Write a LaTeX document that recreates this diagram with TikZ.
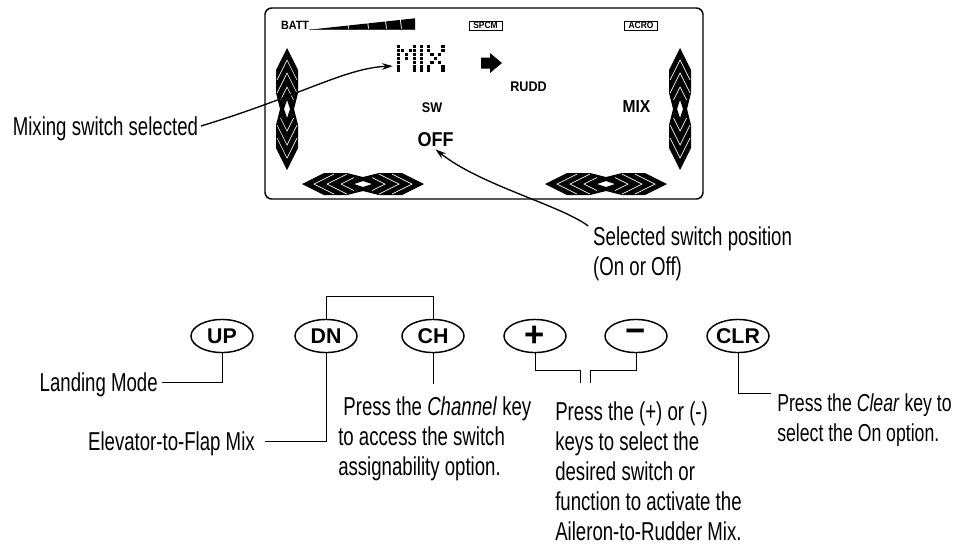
\documentclass[tikz,border=0pt]{standalone}
\usepackage{fontspec}
\setmainfont[FakeStretch=0.72]{Liberation Sans}
\newfontfamily\keyfont{Liberation Sans}
\newfontfamily\lcdfont[FakeStretch=0.9]{Liberation Sans}
\usetikzlibrary{arrows.meta, shapes.geometric}

%% Twin chevron bar of the LCD (up/down, rotate for left/right)
\tikzset{
  twinarrow/.pic={
    \foreach \s in {1,-1}{
      \begin{scope}[yscale=\s]
        \fill (0,-61) -- (11,-39) -- (11,-16) -- (7,0) -- (3,0) -- (0,-9)
          -- (-3,0) -- (-7,0) -- (-11,-16) -- (-11,-39) -- cycle;
        \draw[white, line width=0.5pt] (-10,-29) -- (0,-49) -- (10,-29);
        \draw[white, line width=0.5pt] (-10,-16) -- (0,-36) -- (10,-16);
        \draw[white, line width=0.5pt] (-6.5,-9) -- (0,-22) -- (6.5,-9);
      \end{scope}
    }
  }
}

\begin{document}
\begin{tikzpicture}[
  x=0.75pt, y=-0.75pt,
  %% LCD legend
  lcdtxt/.style={inner sep=0pt, font=\lcdfont\bfseries\fontsize{#1}{#1}\selectfont},
  %% boxed LCD flag
  lcdtag/.style={draw, line width=0.5pt, inner sep=0pt,
    minimum width=24.75pt, minimum height=6.75pt,
    font=\lcdfont\bfseries\fontsize{7}{7}\selectfont},
  %% transmitter key
  key/.style={ellipse, draw, line width=1.1pt, inner sep=0pt,
    minimum width=46.5pt, minimum height=24.8pt,
    font=\keyfont\bfseries\fontsize{16}{16}\selectfont},
  %% explanatory text
  note/.style={inner sep=0pt, align=left, font=\fontsize{19.4}{22.5}\selectfont},
  oneline/.style={text height=14pt, text depth=0pt},
  %% leader line
  lead/.style={line width=0.75pt},
  %% pointer arrow
  parr/.style={-{Stealth[length=8pt,width=5pt]}, line width=1pt},
]
\useasboundingbox (0,0) rectangle (960,544);

%% ── LCD SCREEN ─────────────────────────────────────────────────────────────
\node[draw, line width=1.1pt, rounded corners=5pt,
      minimum width=328.5pt, minimum height=143.25pt]
  (screen) at (484,103.5) {};

%% battery gauge
\node[lcdtxt=9] (batt) at (295,25) {BATT};
\fill (313,29.3) -- (415,18.3) -- (415,29.3) -- cycle;
\draw[line width=0.5pt] (batt.south east) -- (415,29.3);
\foreach \tx in {347,367,385,400}
  \draw[white, line width=0.6pt] (\tx,17) -- (\tx+1.5,28.5);

\node[lcdtag] (spcm) at (485.5,25.5) {SPCM};
\node[lcdtag] (acro) at (641,25.5) {ACRO};

%% dot-matrix MIX
\foreach \c/\r in {0/0,0/1,0/2,0/3,0/4,0/5,0/6,4/0,4/1,4/2,4/3,4/4,4/5,4/6,
                   1/1,3/1,2/2,2/3}
  \fill (397+4*\c,45+3.9*\r) rectangle ++(3.4,3.2);
\foreach \r in {0,...,6}
  \fill (420,45+3.9*\r) rectangle ++(3.4,3.2);
\foreach \c/\r in {0/0,4/0,0/1,4/1,1/2,3/2,2/3,1/4,3/4,0/5,4/5,0/6,4/6}
  \fill (426.5+3.7*\c,45+3.9*\r) rectangle ++(3.4,3.2);
\node[inner sep=0pt, minimum width=42pt, minimum height=20.25pt]
  (dotmix) at (421,58.5) {};

%% block arrow
\fill (481,57.5) -- (490,57.5) -- (490,53) -- (502,63) -- (490,73)
  -- (490,68.5) -- (481,68.5) -- cycle;

\node[lcdtxt=10.5] (rudd) at (528.5,87) {RUDD};
\node[lcdtxt=10.5] (sw) at (432,108) {SW};
\node[lcdtxt=13] (mixr) at (636.5,107) {MIX};
\node[lcdtxt=15, inner sep=1.5pt] (off) at (435.5,140) {OFF};

%% trim bars
\pic at (287,109) {twinarrow};
\pic at (680,109) {twinarrow};
\pic[rotate=90] at (363,184) {twinarrow};
\pic[rotate=90] at (606,184) {twinarrow};

%% ── SCREEN CALLOUTS ────────────────────────────────────────────────────────
\node[note, oneline, inner xsep=2pt, anchor=east]
  (mixtxt) at (201,126) {Mixing switch selected};
\draw[parr] (mixtxt.east) .. controls (300,96) and (345,68) .. (dotmix.195);

\node[note, inner xsep=3.5pt, anchor=north west]
  (seltxt) at (588.3,226) {Selected switch position\\(On or Off)};
\draw[parr] (seltxt.north west) .. controls (560,205) and (480,185) .. (off.south);

%% ── KEYS ───────────────────────────────────────────────────────────────────
\def\yKey{336}
\node[key] (up) at (222,\yKey) {UP};
\node[key] (dn) at (326,\yKey) {DN};
\node[key] (ch) at (433,\yKey) {CH};
\node[key, font=\keyfont\bfseries\fontsize{26}{26}\selectfont]
  (plus) at (535,\yKey) {+};
\node[key, font=\keyfont\bfseries\fontsize{26}{26}\selectfont]
  (minus) at (636,\yKey) {−};
\node[key] (clr) at (738,\yKey) {CLR};

\draw[lead] (dn.north) -- ++(0,-22) -| (ch.north);

%% ── KEY LABELS ─────────────────────────────────────────────────────────────
\node[note, oneline, inner xsep=3pt, anchor=east]
  (landtxt) at (162,382) {Landing Mode};
\draw[lead] (up.south) |- (landtxt.east);

\node[note, oneline, inner xsep=7.5pt, anchor=east]
  (elevtxt) at (265,441) {Elevator-to-Flap Mix};
\draw[lead] (dn.south) |- (elevtxt.east);

\node[note, inner ysep=9.5pt, anchor=north west]
  (chtxt) at (338,383.5)
  {\ Press the \textit{Channel} key\\to access the switch\\assignability option.};
\draw[lead] (ch.south) -- (ch.south |- chtxt.north);

\node[note, anchor=north west]
  (midtxt) at (555,401)
  {Press the (+) or (-)\\keys to select the\\desired switch or\\
   function to activate the\\Aileron-to-Rudder Mix.};
\draw[lead] (plus.south) -- ++(0,17) -- ++(45,0) -- ++(0,13);
\draw[lead] (minus.south) -- ++(0,17) -- ++(-46,0) -- ++(0,13);

\node[note, font=\fontsize{18.4}{22.5}\selectfont, inner xsep=4.5pt,
      anchor=north west]
  (clrtxt) at (771,393) {Press the \textit{Clear} key to\\select the On option.};
\draw[lead] (clr.south) |- (clrtxt.north west);

\end{tikzpicture}
\end{document}
